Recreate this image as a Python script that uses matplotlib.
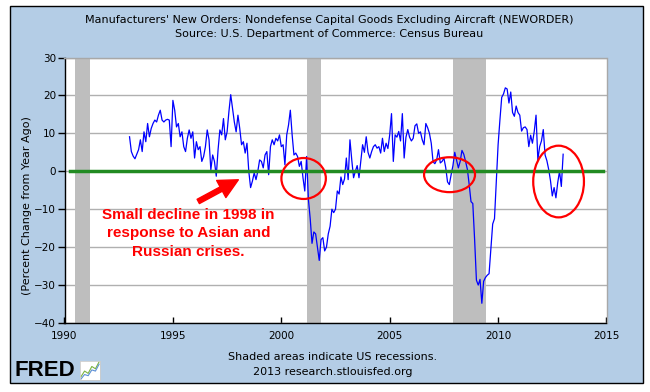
import matplotlib.pyplot as plt
import numpy as np
from matplotlib.patches import Ellipse, Rectangle

# Manufacturers' new orders, nondefense capital goods ex aircraft
# percent change from year ago, monthly, Jan 1993 .. Jan 2013
start_year = 1993
yoy_pct = [
    9.1, 5.2, 4.0, 3.3, 4.5, 5.7, 8.3, 5.2, 10.4, 7.8, 12.6, 9.1,          # 1993
    11.3, 12.6, 13.5, 13.0, 14.8, 16.1, 13.5, 13.0, 13.5, 13.7, 13.5, 6.5,  # 1994
    18.7, 16.1, 11.7, 12.6, 9.1, 10.4, 6.5, 5.2, 8.7, 10.9, 8.7, 10.4,      # 1995
    3.5, 7.8, 5.7, 6.5, 2.6, 3.9, 6.5, 10.9, 8.3, 0.4, 4.3, 2.6,            # 1996
    -1.3, 5.7, 10.9, 9.6, 13.9, 8.3, 10.4, 15.7, 20.2, 16.5, 13.0, 10.4,    # 1997
    14.8, 11.3, 7.0, 7.8, 4.8, 7.4, 0.0, -4.3, -2.6, -0.4, -2.2, 0.0,       # 1998
    3.0, 2.6, 0.9, 4.3, 5.2, -0.9, 6.5, 8.3, 7.0, 8.7, 8.0, 9.6,            # 1999
    6.5, 7.0, 1.7, 9.6, 12.2, 16.1, 9.6, 4.3, 4.8, 3.9, 1.3, 2.6,           # 2000
    -1.7, -5.2, 3.9, -7.4, -12.5, -19.0, -16.0, -16.5, -20.0, -23.5, -18.0, -17.5,  # 2001
    -21.0, -20.0, -16.5, -14.5, -10.0, -10.9, -10.0, -5.2, -6.0, -1.5, -3.5, -2.0,  # 2002
    3.5, -2.2, 8.3, 3.0, -1.7, 0.0, 1.5, -1.7, 2.6, 7.0, 5.0, 9.1,          # 2003
    5.0, 3.5, 5.2, 6.5, 7.0, 6.1, 6.5, 4.8, 8.7, 5.2, 7.4, 6.0,             # 2004
    9.6, 15.2, 2.6, 9.6, 9.0, 10.5, 8.0, 15.2, 3.5, 9.0, 11.0, 9.0,         # 2005
    8.0, 8.7, 12.0, 12.5, 10.0, 10.4, 8.3, 7.0, 12.6, 11.5, 10.0, 7.4,      # 2006
    2.5, 2.0, 3.0, 5.7, 2.2, 2.6, 3.5, 1.0, -2.8, -3.5, -0.9, 1.5,          # 2007
    5.0, 3.0, 0.9, 2.6, 5.5, 4.5, 2.6, 0.5, -3.5, -8.0, -8.5, -18.0,        # 2008
    -28.7, -30.0, -28.5, -34.8, -29.0, -28.0, -27.4, -27.0, -20.4, -13.9, -12.5, -2.6,  # 2009
    7.0, 13.5, 19.5, 20.4, 22.0, 21.7, 18.0, 20.9, 15.5, 14.5, 17.2, 15.5,  # 2010
    14.8, 10.6, 11.5, 11.7, 11.0, 6.5, 9.5, 7.4, 10.5, 14.8, 3.0, 6.5,      # 2011
    8.0, 11.0, 4.3, 2.8, 0.5, -2.5, -6.5, -4.3, -7.0, -3.0, 0.0, -4.0,      # 2012
    4.5,                                                                     # 2013
]

# US recessions (start, end) in decimal years
recessions = [(1990.5, 1991.17), (2001.17, 2001.83), (2007.92, 2009.42)]

x_ticks = [1990, 1995, 2000, 2005, 2010, 2015]
y_ticks = [-40, -30, -20, -10, 0, 10, 20, 30]

# hand-drawn highlights: (center x, center y, width, height)
highlights = [(2001.03, -1.9, 2.05, 10.8), (2007.76, -0.9, 2.35, 9.2),
              (2012.79, -2.7, 2.34, 18.9)]

title_1 = "Manufacturers' New Orders: Nondefense Capital Goods Excluding Aircraft (NEWORDER)"
title_2 = "Source: U.S. Department of Commerce: Census Bureau"
note_text = "Small decline in 1998 in\nresponse to Asian and\nRussian crises."

logo_green = [1.0, 2.0, 1.6, 2.8, 2.4, 3.6]
logo_blue = [0.6, 1.4, 1.2, 2.2, 2.0, 3.2]

BG = "#B4CDE6"
W, H = 650, 392


def main():
    t = start_year + np.arange(len(yoy_pct)) / 12.0
    y = np.array(yoy_pct)

    fig = plt.figure(figsize=(W / 100, H / 100), dpi=100, facecolor="white")
    fig.patches.append(Rectangle((10 / W, 9 / H), 633 / W, 377 / H,
                                 transform=fig.transFigure, facecolor=BG,
                                 edgecolor="black", lw=1, zorder=-5))

    ax = fig.add_axes([64.5 / W, (H - 323) / H, 542 / W, 265.5 / H])
    ax.set_facecolor("white")

    for s, e in recessions:
        ax.axvspan(s, e, color="#BEBEBE", lw=0, zorder=1)

    ax.set_axisbelow(True)
    ax.grid(axis="y", color="#B0B0B0", lw=1)
    ax.grid(axis="x", visible=False)

    ax.plot(t, y, color="#0000FF", lw=0.9, zorder=3)
    ax.plot([1990.25, 2014.85], [0, 0], color="#228B22", lw=2.5, zorder=4)

    for cx, cy, w, h in highlights:
        ax.add_patch(Ellipse((cx, cy), w, h, fill=False, edgecolor="#FF0000",
                             lw=1.6, zorder=5))

    ax.annotate("", xy=(1998.02, -2.24), xytext=(1996.17, -7.95),
                arrowprops=dict(arrowstyle="simple,head_length=1.0,head_width=1.0,tail_width=0.25",
                                color="#FF0000", shrinkA=0, shrinkB=0,
                                mutation_scale=14), zorder=6)
    ax.text(1995.71, -16.3, note_text, color="#FF0000", fontweight="bold",
            fontsize=11, ha="center", va="center", linespacing=1.4,
            family="Liberation Sans", zorder=6)

    ax.set_xlim(1990, 2015)
    ax.set_ylim(-40, 30)
    ax.set_xticks(x_ticks)
    ax.set_yticks(y_ticks)
    ax.tick_params(axis="y", direction="out", length=5, width=1,
                   labelsize=7.5, pad=1)
    ax.tick_params(axis="x", direction="in", length=4, width=1,
                   labelsize=7.5, pad=6)
    for side in ("left", "bottom"):
        ax.spines[side].set_color("black")
        ax.spines[side].set_linewidth(1)
    for side in ("top", "right"):
        ax.spines[side].set_color("#A8A8A8")
        ax.spines[side].set_linewidth(1)

    fig.text(27 / W, 1 - 206 / H, "(Percent Change from Year Ago)",
             rotation=90, ha="center", va="center", fontsize=8)
    fig.text(329 / W, 1 - 20 / H, title_1, ha="center", va="center", fontsize=8)
    fig.text(329 / W, 1 - 34 / H, title_2, ha="center", va="center", fontsize=8)
    fig.text(333 / W, 1 - 357 / H, "Shaded areas indicate US recessions.",
             ha="center", va="center", fontsize=8)
    fig.text(333 / W, 1 - 372 / H, "2013 research.stlouisfed.org",
             ha="center", va="center", fontsize=8)

    # FRED logo
    fig.text(14 / W, 1 - 370 / H, "FRED", fontsize=16, fontweight="heavy",
             family="Liberation Sans", ha="left", va="center")
    lax = fig.add_axes([80 / W, (H - 380) / H, 20 / W, 19 / H])
    lax.set_facecolor("white")
    lax.plot(logo_green, color="#7CB342", lw=0.8)
    lax.plot(logo_blue, color="#5C8FD6", lw=0.8)
    lax.set_xticks([])
    lax.set_yticks([])
    for s in lax.spines.values():
        s.set_color("#CCCCCC")
        s.set_linewidth(0.6)

    fig.savefig("out.png", dpi=100, facecolor="white")
    plt.close(fig)


if __name__ == "__main__":
    main()
